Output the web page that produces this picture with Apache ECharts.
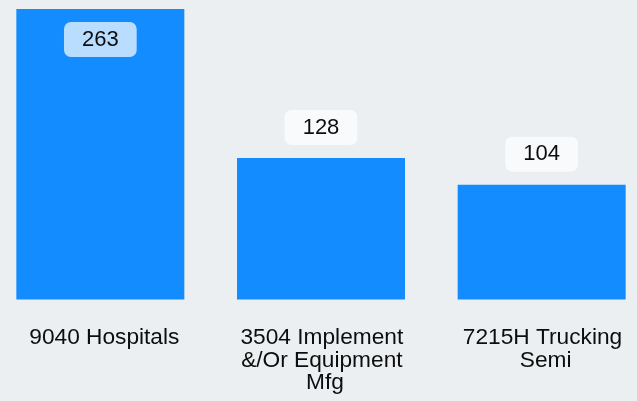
<!DOCTYPE html>
<html>
<head>
<meta charset="utf-8">
<script src="https://cdn.jsdelivr.net/npm/echarts@6/dist/echarts.min.js"></script>
<style>
html,body{margin:0;padding:0;background:#eceff1;overflow:hidden;}
#wrap{position:relative;width:637px;height:401px;overflow:hidden;}
#c{position:absolute;left:-10.5px;top:0;width:662px;height:401px;}
</style>
</head>
<body>
<div id="wrap"><div id="c"></div></div>
<script>
const categories = ['9040 Hospitals', '3504 Implement &/Or Equipment Mfg', '7215H Trucking Semi'];
const values = [263, 128, 104];
const insideIndex = [0];

const chart = echarts.init(document.getElementById('c'), null, {renderer: 'canvas'});
const data = values.map((v, i) => {
  const inside = insideIndex.includes(i);
  return {
    value: v,
    label: {
      position: inside ? 'insideTop' : 'top',
      distance: 13
    }
  };
});
chart.setOption({
  backgroundColor: '#eceff1',
  animation: false,
  grid: {left: 0, right: 0, top: 9, bottom: 101.5},
  xAxis: {
    type: 'category',
    data: categories,
    axisLine: {show: false},
    axisTick: {show: false},
    axisLabel: {
      margin: 27,
      fontFamily: 'Liberation Sans, Arial, sans-serif',
      fontSize: 22.7,
      lineHeight: 22.5,
      color: '#0d0d0d',
      width: 175,
      overflow: 'break',
      interval: 0,
      padding: [0, 0, 0, 8]
    }
  },
  yAxis: {type: 'value', min: 0, max: 263, show: false, splitLine: {show: false}},
  series: [{
    type: 'bar',
    data: data,
    barWidth: 168,
    itemStyle: {color: '#128cff'},
    label: {
      show: true,
      fontFamily: 'Liberation Sans, Arial, sans-serif',
      fontSize: 22,
      lineHeight: 22,
      color: '#0d0d0d',
      backgroundColor: 'rgba(255,255,255,0.7)',
      borderRadius: 7,
      padding: [6.5, 18]
    }
  }]
});
</script>
</body>
</html>
